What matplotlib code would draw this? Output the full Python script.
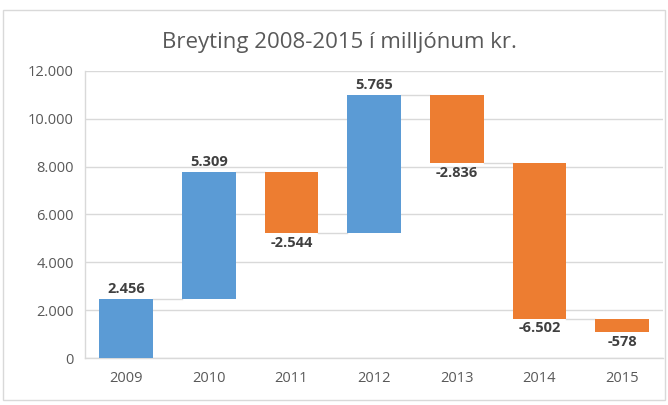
import matplotlib

matplotlib.use("Agg")
import matplotlib.pyplot as plt
from matplotlib.patches import Rectangle
from matplotlib.ticker import FuncFormatter

years = ["2009", "2010", "2011", "2012", "2013", "2014", "2015"]
changes = [2456, 5309, -2544, 5765, -2836, -6502, -578]
y_ticks = [0, 2000, 4000, 6000, 8000, 10000, 12000]

BLUE = "#5B9BD5"
ORANGE = "#ED7D31"
GRID = "#D9D9D9"
TEXT = "#595959"
LABEL = "#404040"

plt.rcParams["font.family"] = ["Open Sans", "DejaVu Sans"]


def fmt(v, _pos=None):
    s = f"{abs(int(round(v))):,}".replace(",", ".")
    return "-" + s if v < 0 else s


# running totals: each bar spans previous total -> new total
bottoms, tops = [], []
total = 0
for c in changes:
    bottoms.append(total)
    total += c
    tops.append(total)

fig = plt.figure(figsize=(6.68, 4.05), dpi=100)
ax = fig.add_axes([0.127, 0.116, 0.866, 0.709])

width = 0.65
x = range(len(years))
for i, (b, t, c) in enumerate(zip(bottoms, tops, changes)):
    ax.bar(i, t - b, bottom=b, width=width, color=BLUE if c > 0 else ORANGE, zorder=3)
    if c > 0:
        ax.annotate(fmt(c), (i, t), xytext=(0, 2), textcoords="offset points",
                    ha="center", va="bottom", fontsize=10.5, fontweight="bold", color=LABEL)
    else:
        ax.annotate(fmt(c), (i, t), xytext=(0, -2), textcoords="offset points",
                    ha="center", va="top", fontsize=10.5, fontweight="bold", color=LABEL)

# connectors between bars
for i in range(len(years) - 1):
    ax.plot([i + width / 2, i + 1 - width / 2], [tops[i], tops[i]],
            color=GRID, lw=1.0, zorder=2)

ax.set_xlim(-0.5, len(years) - 0.5)
ax.set_ylim(0, 12000)
ax.set_xticks(list(x))
ax.set_xticklabels(years)
ax.set_yticks(y_ticks)
ax.yaxis.set_major_formatter(FuncFormatter(fmt))
ax.tick_params(length=0, colors=TEXT, labelsize=10.5)
ax.tick_params(axis="x", pad=9)
ax.tick_params(axis="y", pad=8)
ax.grid(axis="y", color=GRID, lw=1.0, zorder=0)
for side in ["top", "right"]:
    ax.spines[side].set_visible(False)
for side in ["left", "bottom"]:
    ax.spines[side].set_color(GRID)
    ax.spines[side].set_linewidth(1.0)

fig.text(0.508, 0.895, "Breyting 2008-2015 í milljónum kr.", ha="center", va="center",
         fontsize=16, color=TEXT)

fig.patches.append(Rectangle((0.005, 0.012), 0.99, 0.963, transform=fig.transFigure,
                             fill=False, edgecolor=GRID, lw=1.0))

fig.savefig("out.png", dpi=100)
